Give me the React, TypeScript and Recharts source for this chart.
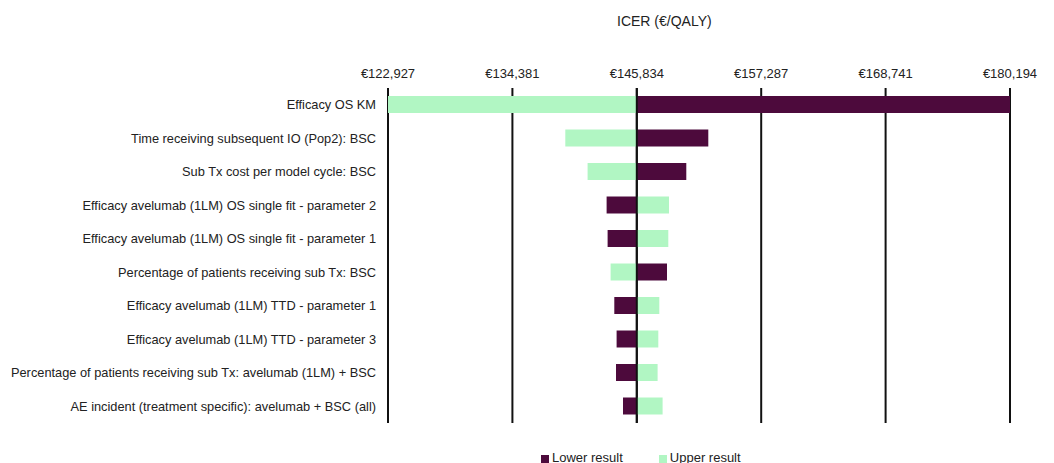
import React from "react";
import {
  BarChart, Bar, XAxis, YAxis, CartesianGrid, ReferenceLine,
} from "recharts";

const BASE = 145834;

const params = [
  "Efficacy OS KM",
  "Time receiving subsequent IO (Pop2): BSC",
  "Sub Tx cost per model cycle: BSC",
  "Efficacy avelumab (1LM) OS single fit - parameter 2",
  "Efficacy avelumab (1LM) OS single fit - parameter 1",
  "Percentage of patients receiving sub Tx: BSC",
  "Efficacy avelumab (1LM) TTD - parameter 1",
  "Efficacy avelumab (1LM) TTD - parameter 3",
  "Percentage of patients receiving sub Tx: avelumab (1LM) + BSC",
  "AE incident (treatment specific): avelumab + BSC (all)",
];

// ICER at the lower / upper input value
const lowerResult = [180194, 152417, 150391, 143054, 143146, 148614, 143762, 143974, 143919, 144563];
const upperResult = [122927, 139251, 141304, 148799, 148734, 143422, 147906, 147814, 147749, 148209];

const xTicks = [122927, 134381, 145834, 157287, 168741, 180194];

const LOWER_COLOR = "#4D0A3C";
const UPPER_COLOR = "#B1F6C3";
const FONT = "'Liberation Sans', Arial, sans-serif";

const range = (v: number): [number, number] => [Math.min(v, BASE), Math.max(v, BASE)];

const data = params.map((name, i) => ({
  name,
  lower: range(lowerResult[i]),
  upper: range(upperResult[i]),
}));

const fmt = (v: number) => "€" + v.toLocaleString("en-US");

const LabelTick = (props: any) => {
  const { x, y, payload } = props;
  return (
    <text x={x} y={y} textAnchor="end" dominantBaseline="central" fontSize={12.8} fill="#222" fontFamily={FONT}>
      {payload.value}
    </text>
  );
};

export default function App() {
  return (
    <div style={{ position: "absolute", left: 0, top: 0, width: 1054, height: 463, background: "#fff", fontFamily: FONT }}>
      <div style={{ position: "absolute", left: 617, top: 13, fontSize: 14, color: "#222" }}>ICER (€/QALY)</div>

      <BarChart
        width={1054}
        height={463}
        data={data}
        layout="vertical"
        margin={{ top: 58, right: 44, bottom: 40, left: 0 }}
        barSize={17}
        barGap={-17}
      >
        <CartesianGrid horizontal={false} vertical stroke="#111" strokeWidth={2} />
        <XAxis
          type="number"
          orientation="top"
          domain={[122927, 180194]}
          ticks={xTicks}
          tickFormatter={fmt}
          height={30}
          axisLine={false}
          tickLine={false}
          tickSize={0}
          tickMargin={10}
          tick={{ fontSize: 13, fill: "#222", fontFamily: FONT }}
          allowDataOverflow
        />
        <YAxis
          type="category"
          dataKey="name"
          width={388}
          axisLine={false}
          tickLine={false}
          tickSize={0}
          tickMargin={12}
          interval={0}
          tick={<LabelTick />}
        />
        <Bar dataKey="lower" name="Lower result" fill={LOWER_COLOR} isAnimationActive={false} />
        <Bar dataKey="upper" name="Upper result" fill={UPPER_COLOR} isAnimationActive={false} />
        <ReferenceLine x={BASE} stroke="#111" strokeWidth={2} />
      </BarChart>

      <div style={{ position: "absolute", left: 541, top: 450, display: "flex", alignItems: "center", fontSize: 13, color: "#222" }}>
        <span style={{ width: 8, height: 8, background: LOWER_COLOR, marginRight: 3, marginTop: 3 }} />
        <span>Lower result</span>
        <span style={{ width: 8, height: 8, background: UPPER_COLOR, marginLeft: 36, marginRight: 3, marginTop: 3 }} />
        <span>Upper result</span>
      </div>
    </div>
  );
}
